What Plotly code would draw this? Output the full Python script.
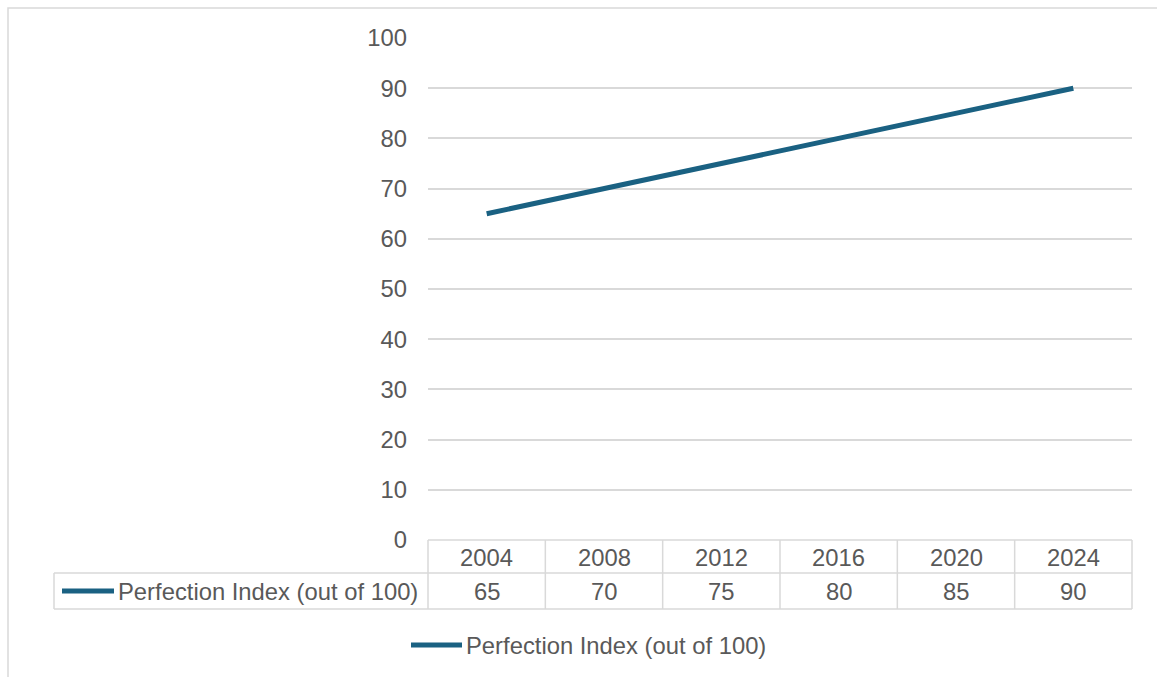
import plotly.graph_objects as go

# Chart data
years = ["2004", "2008", "2012", "2016", "2020", "2024"]
perfection_index = [65, 70, 75, 80, 85, 90]
series_name = "Perfection Index (out of 100)"
y_ticks = [0, 10, 20, 30, 40, 50, 60, 70, 80, 90, 100]

W, H = 1157, 677
LINE_COLOR = "#1A6182"
TEXT_COLOR = "#595959"
GRID_COLOR = "#D9D9D9"
FONT = "Liberation Sans, Arial, sans-serif"
FS = 23.8


def px(x):
    return x / W


def py(y):
    return 1 - y / H


plot_left, plot_right = 428, 1132
plot_top, plot_bottom = 38, 540
n = len(years)
col_w = (plot_right - plot_left) / n

fig = go.Figure()
fig.add_trace(go.Scatter(
    x=list(range(n)),
    y=perfection_index,
    mode="lines",
    name=series_name,
    line=dict(color=LINE_COLOR, width=5),
    showlegend=False,
    hoverinfo="x+y",
))

shapes = []
annotations = []

# Outer chart border
shapes.append(dict(type="rect", xref="paper", yref="paper",
                   x0=px(8), x1=px(W + 5), y0=py(H + 5), y1=py(8),
                   line=dict(color=GRID_COLOR, width=1.5)))

# Data table grid
table_top, row_sep, table_bottom = 540, 573, 609
table_left = 54
gl = dict(color=GRID_COLOR, width=1.5)
shapes.append(dict(type="line", xref="paper", yref="paper",
                   x0=px(plot_left), x1=px(plot_right), y0=py(table_top), y1=py(table_top), line=gl))
for yy in (row_sep, table_bottom):
    shapes.append(dict(type="line", xref="paper", yref="paper",
                       x0=px(table_left), x1=px(plot_right), y0=py(yy), y1=py(yy), line=gl))
shapes.append(dict(type="line", xref="paper", yref="paper",
                   x0=px(table_left), x1=px(table_left), y0=py(row_sep), y1=py(table_bottom), line=gl))
for k in range(n + 1):
    xx = plot_left + k * col_w
    shapes.append(dict(type="line", xref="paper", yref="paper",
                       x0=px(xx), x1=px(xx), y0=py(table_top), y1=py(table_bottom), line=gl))

# Table contents
for k, (yr, val) in enumerate(zip(years, perfection_index)):
    cx = plot_left + (k + 0.5) * col_w
    annotations.append(dict(x=px(cx), y=py(557), xref="paper", yref="paper",
                            text=yr, showarrow=False, xanchor="center", yanchor="middle",
                            font=dict(size=FS, color=TEXT_COLOR, family=FONT)))
    annotations.append(dict(x=px(cx), y=py(591), xref="paper", yref="paper",
                            text=str(val), showarrow=False, xanchor="center", yanchor="middle",
                            font=dict(size=FS, color=TEXT_COLOR, family=FONT)))

# Row label with legend key inside the table
key = dict(color=LINE_COLOR, width=5)
shapes.append(dict(type="line", xref="paper", yref="paper",
                   x0=px(62), x1=px(114), y0=py(591), y1=py(591), line=key))
annotations.append(dict(x=px(116), y=py(591), xref="paper", yref="paper",
                        text=series_name, showarrow=False, xanchor="left", yanchor="middle",
                        font=dict(size=FS, color=TEXT_COLOR, family=FONT)))

# Legend below the table
shapes.append(dict(type="line", xref="paper", yref="paper",
                   x0=px(411), x1=px(462), y0=py(645), y1=py(645), line=key))
annotations.append(dict(x=px(464), y=py(645), xref="paper", yref="paper",
                        text=series_name, showarrow=False, xanchor="left", yanchor="middle",
                        font=dict(size=FS, color=TEXT_COLOR, family=FONT)))

fig.update_layout(
    template="none",
    width=W, height=H, autosize=False,
    margin=dict(l=0, r=0, t=0, b=0, pad=0),
    paper_bgcolor="white", plot_bgcolor="white",
    font=dict(family=FONT, color=TEXT_COLOR, size=FS),
    xaxis=dict(domain=[px(plot_left), px(plot_right)], range=[-0.5, n - 0.5],
               showticklabels=False, showgrid=False, zeroline=False, showline=False,
               ticks="", automargin=False, fixedrange=True),
    yaxis=dict(domain=[py(plot_bottom), py(plot_top)], range=[0, 100],
               tickvals=y_ticks, ticktext=[str(v) for v in y_ticks],
               showgrid=True, gridcolor=GRID_COLOR, gridwidth=1.5,
               zeroline=False, showline=False, ticks="", ticklabelstandoff=20,
               tickfont=dict(size=FS, color=TEXT_COLOR, family=FONT),
               automargin=False, fixedrange=True),
    shapes=shapes,
    annotations=annotations,
    showlegend=False,
)

fig.write_html("out.html")
